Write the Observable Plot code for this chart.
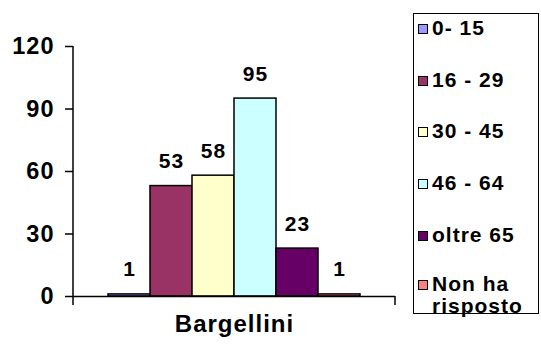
<!DOCTYPE html>
<html>
<head>
<meta charset="utf-8">
<script src="https://cdn.jsdelivr.net/npm/d3@7"></script>
<script src="https://cdn.jsdelivr.net/npm/@observablehq/plot@0.6"></script>
<style>
  html, body { margin: 0; padding: 0; background: #fff; }
  #wrap { position: relative; width: 541px; height: 347px; font-family: "Liberation Sans", Arial, sans-serif; }
  #chart { position: absolute; left: 0; top: 0; }
  #legend { position: absolute; left: 413px; top: 13px; width: 124px; height: 299px; border: 1.5px solid #000; box-sizing: content-box; }
  .item { position: absolute; left: 4px; display: flex; align-items: flex-start; font-weight: bold; font-size: 21px; letter-spacing: 1px; line-height: 22px; color: #000; white-space: nowrap; }
  .sw { width: 8px; height: 8px; border: 1px solid #000; margin-top: 7px; margin-right: 4px; flex: none; }
  svg text { letter-spacing: 1px; }
</style>
</head>
<body>
<div id="wrap">
  <div id="chart"></div>
  <div id="legend"></div>
</div>
<script>
const categories = ["0- 15", "16 - 29", "30 - 45", "46 - 64", "oltre 65", "Non ha risposto"];
const legendLabels = ["0- 15", "16 - 29", "30 - 45", "46 - 64", "oltre 65", "Non ha<br>risposto"];
const values = [1, 53, 58, 95, 23, 1];
const colors = ["#9999FF", "#993366", "#FFFFCC", "#CCFFFF", "#660066", "#FF8080"];
const yTicks = [0, 30, 60, 90, 120];
const groupLabel = "Bargellini";

const data = categories.map((c, i) => ({cat: c, value: values[i]}));

const plot = Plot.plot({
  width: 412,
  height: 347,
  marginTop: 46,
  marginBottom: 51,
  marginLeft: 73,
  marginRight: 17,
  style: {fontFamily: "'Liberation Sans', Arial, sans-serif", background: "transparent"},
  x: {domain: categories, paddingInner: 0, paddingOuter: 0.75, axis: null},
  y: {domain: [0, 120], axis: null},
  color: {domain: categories, range: colors},
  marks: [
    Plot.barY(data, {x: "cat", y: "value", fill: "cat", stroke: "#000", strokeWidth: 1.5}),
    Plot.ruleY([0], {stroke: "#000", strokeWidth: 1.5}),
    Plot.text(data, {x: "cat", y: "value", text: d => String(d.value), lineAnchor: "bottom", dy: -18, fontSize: 21, fontWeight: "bold", fill: "#000"}),
    Plot.axisY({ticks: yTicks, tickSize: 8, tickPadding: 11, fontSize: 23.5, fontWeight: "bold", label: null, stroke: "#000", strokeWidth: 1.5, color: "#000"}),
    Plot.text([groupLabel], {frameAnchor: "bottom", dy: 35, fontSize: 24, fontWeight: "bold", fill: "#000"})
  ]
});

// axis frame lines derived from the scales
const sx = plot.scale("x"), sy = plot.scale("y");
const x0 = Math.min(...sx.range), x1 = Math.max(...sx.range);
const yTop = Math.min(...sy.range), yBot = Math.max(...sy.range);
const svg = d3.select(plot);
svg.append("line").attr("x1", x0).attr("x2", x0).attr("y1", yTop).attr("y2", yBot + 9).attr("stroke", "#000").attr("stroke-width", 1.5);
svg.append("line").attr("x1", x1).attr("x2", x1).attr("y1", yBot).attr("y2", yBot + 9).attr("stroke", "#000").attr("stroke-width", 1.5);

document.getElementById("chart").appendChild(plot);

// legend
const legend = d3.select("#legend");
const rowTops = [3, 55, 106, 158, 210, 259];
legendLabels.forEach((l, i) => {
  const item = legend.append("div").attr("class", "item").style("top", rowTops[i] + "px");
  item.append("div").attr("class", "sw").style("background", colors[i]);
  item.append("div").html(l);
});
</script>
</body>
</html>
